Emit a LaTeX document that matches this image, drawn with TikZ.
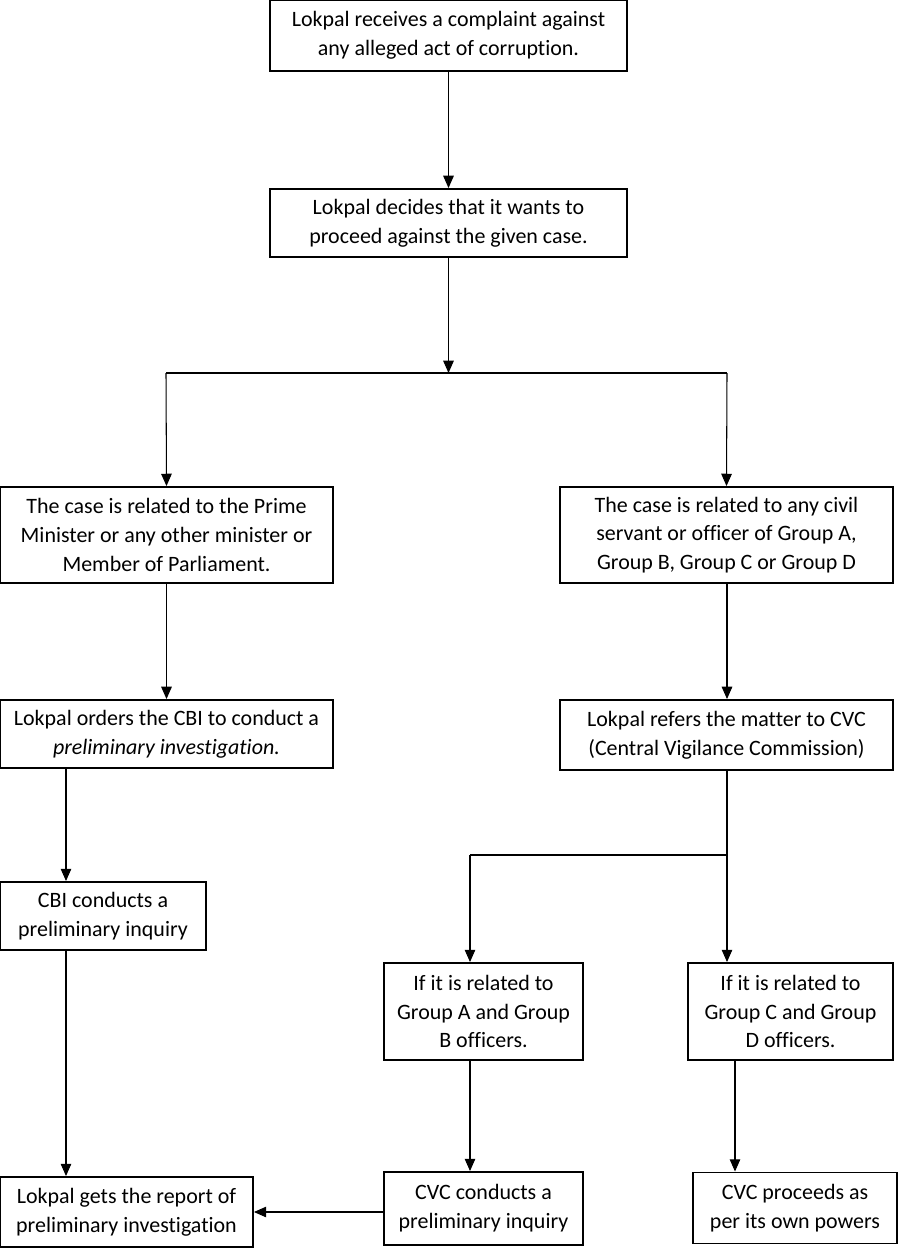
\documentclass[tikz,border=0pt]{standalone}
\usepackage{fontspec}
\setmainfont[Ligatures=NoCommon]{Carlito}
\usepackage{tikz}
\usetikzlibrary{arrows.meta, positioning}

\begin{document}
\begin{tikzpicture}[x=0.02cm, y=-0.02cm, font=\fontsize{12.5}{16.4}\selectfont]
\tikzstyle{block} = [rectangle, draw, line width=1.1pt, fill=white, align=center, inner sep=2pt]
\tikzstyle{line} = [draw, line width=0.6pt, -{Triangle[length=7pt,width=6pt]}]
\useasboundingbox (0,0) rectangle (900,1260);
% top of the chart
\node [block, minimum width=7.14cm, minimum height=1.42cm] (rcv) at (448.5,35.5) {Lokpal receives a complaint against\\any alleged act of corruption.};
\node [block, minimum width=7.14cm, minimum height=1.36cm] (dec) at (448.5,223) {Lokpal decides that it wants to\\proceed against the given case.};
% two kinds of case
\node [block, minimum width=6.66cm, minimum height=1.92cm] (pm) at (166.5,535) {The case is related to the Prime\\Minister or any other minister or\\Member of Parliament.};
\node [block, minimum width=6.66cm, minimum height=1.92cm] (civ) at (726.5,535) {The case is related to any civil\\servant or officer of Group A,\\Group B, Group C or Group D};
\node [block, minimum width=6.66cm, minimum height=1.36cm] (cbi) at (166.5,734) {Lokpal orders the CBI to conduct a\\\textit{preliminary investigation.}};
\node [block, minimum width=6.66cm, minimum height=1.40cm] (cvc) at (726.5,735) {Lokpal refers the matter to CVC\\(Central Vigilance Commission)};
\node [block, minimum width=4.12cm, minimum height=1.36cm] (cbiinq) at (103,916) {CBI conducts a\\preliminary inquiry};
\node [block, minimum width=3.98cm, minimum height=1.94cm] (grpab) at (483.5,1011.5) {If it is related to\\Group A and Group\\B officers.};
\node [block, minimum width=4.10cm, minimum height=1.94cm] (grpcd) at (790.5,1011.5) {If it is related to\\Group C and Group\\D officers.};
% outcomes
\node [block, minimum width=5.06cm, minimum height=1.40cm] (rep) at (126.5,1212) {Lokpal gets the report of\\preliminary investigation};
\node [block, minimum width=3.98cm, minimum height=1.46cm] (cvcinq) at (483.5,1208.5) {CVC conducts a\\preliminary inquiry};
\node [block, minimum width=4.08cm, minimum height=1.42cm] (own) at (795,1208) {CVC proceeds as\\per its own powers};
% junction points
\coordinate (jl) at (166,373);
\coordinate (jr) at (727,373);
\coordinate (kl) at (470,855);
\coordinate (kr) at (727,855);
\coordinate (xa) at (66,0);
\coordinate (xb) at (470,0);
\coordinate (xc) at (735,0);
\path [line] (rcv) -- (dec);
\path [line] (dec.south) -- (dec.south |- jl);
\draw [line width=0.6pt] (jl) -- (jr);
\path [line] (jl) -- (pm.north);
\path [line] (jr) -- (civ.north);
\path [line] (pm) -- (cbi);
\path [line] (civ.south -| jr) -- (cvc.north -| jr);
\path [line] (xa |- cbi.south) -- (xa |- cbiinq.north);
\draw [line width=0.6pt] (cvc.south -| kr) -- (kr) -- (kl);
\path [line] (kl) -- (kl |- grpab.north);
\path [line] (kr) -- (kr |- grpcd.north);
\path [line] (xa |- cbiinq.south) -- (xa |- rep.north);
\path [line] (xb |- grpab.south) -- (xb |- cvcinq.north);
\path [line] (xc |- grpcd.south) -- (xc |- own.north);
\path [line] (cvcinq.west |- rep) -- (rep.east);
\end{tikzpicture}
\end{document}
